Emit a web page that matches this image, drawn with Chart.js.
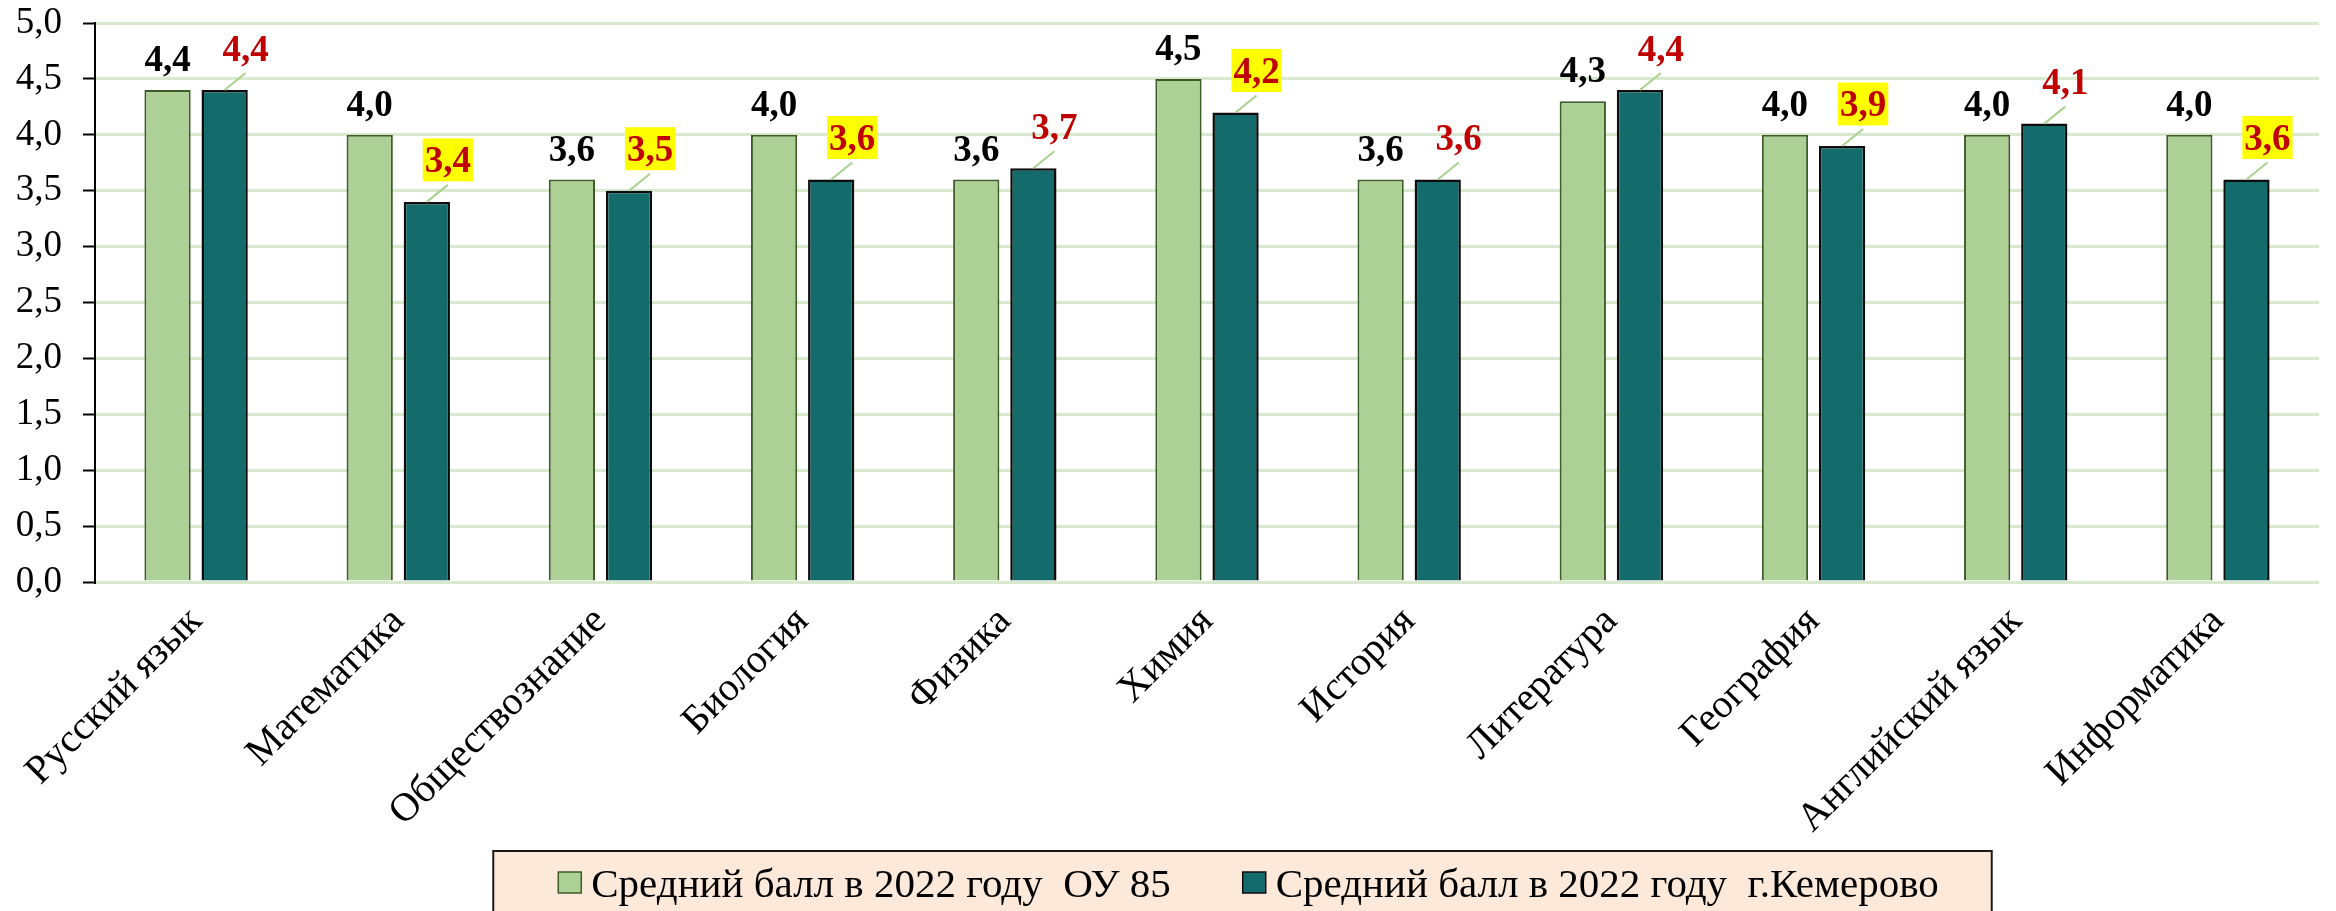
<!DOCTYPE html>
<html lang="ru">
<head>
<meta charset="utf-8">
<title>Средний балл в 2022 году</title>
<script src="https://cdn.jsdelivr.net/npm/chart.js@4.4.1/dist/chart.umd.min.js"></script>
<style>
  html, body { margin: 0; padding: 0; background: #fff; }
  #chart { display: block; }
</style>
</head>
<body>
<canvas id="chart" width="2336" height="911"></canvas>
<script>
const subjects = [
  "Русский язык", "Математика", "Обществознание", "Биология", "Физика", "Химия",
  "История", "Литература", "География", "Английский язык", "Информатика"
];
const schoolScores = [4.4, 4.0, 3.6, 4.0, 3.6, 4.5, 3.6, 4.3, 4.0, 4.0, 4.0];
const cityScores = [4.4, 3.4, 3.5, 3.6, 3.7, 4.2, 3.6, 4.4, 3.9, 4.1, 3.6];
const seriesNames = ["Средний балл в 2022 году  ОУ 85", "Средний балл в 2022 году  г.Кемерово"];

const SERIF = "'Liberation Serif', 'Times New Roman', serif";
const fmt = (v) => v.toFixed(1).replace(".", ",");

// value labels: school above its bar, city up-right with a leader line,
// highlighted yellow where the city score is below the school score
const valueLabels = {
  id: "valueLabels",
  afterDatasetsDraw(chart) {
    const ctx = chart.ctx;
    ctx.save();
    ctx.font = "bold 37px " + SERIF;
    ctx.textAlign = "center";
    ctx.textBaseline = "alphabetic";

    chart.getDatasetMeta(0).data.forEach((bar, i) => {
      ctx.fillStyle = "#000";
      ctx.fillText(fmt(schoolScores[i]), bar.x, bar.y - 19);
    });

    chart.getDatasetMeta(1).data.forEach((bar, i) => {
      const text = fmt(cityScores[i]);
      const cx = bar.x + 21;
      const cy = bar.y - 42;
      ctx.strokeStyle = "#a9d18e";
      ctx.lineWidth = 2;
      ctx.beginPath();
      ctx.moveTo(bar.x, bar.y);
      ctx.lineTo(cx, cy + 25);
      ctx.stroke();
      if (cityScores[i] < schoolScores[i]) {
        const w = ctx.measureText(text).width + 4;
        ctx.fillStyle = "#ffff00";
        ctx.fillRect(cx - w / 2, cy - 21.5, w, 43);
      }
      ctx.fillStyle = "#c00000";
      ctx.fillText(text, cx, cy + 12.5);
    });
    ctx.restore();
  }
};

// boxed legend under the axis labels
const legendBox = {
  id: "legendBox",
  afterDraw(chart) {
    const ctx = chart.ctx;
    ctx.save();
    ctx.font = "41px " + SERIF;
    const sw = 23, sh = 21, textGap = 10, itemGap = 72;
    const items = chart.data.datasets.map((ds) => ({
      text: ds.label,
      fill: ds.backgroundColor,
      stroke: ds.borderColor,
      w: ctx.measureText(ds.label).width
    }));
    const total = items.reduce((s, it) => s + sw + textGap + it.w, 0) + itemGap * (items.length - 1);
    const boxW = total + 118;
    const left = 1242.5 - boxW / 2;
    const top = 851;

    ctx.fillStyle = "#fde9d9";
    ctx.fillRect(left, top, boxW, 80);
    ctx.strokeStyle = "#1a1a1a";
    ctx.lineWidth = 2;
    ctx.strokeRect(left, top, boxW, 80);

    let x = left + 65;
    items.forEach((it) => {
      ctx.fillStyle = it.fill;
      ctx.fillRect(x, 872, sw, sh);
      ctx.strokeStyle = it.stroke;
      ctx.lineWidth = 1.5;
      ctx.strokeRect(x, 872, sw, sh);
      x += sw + textGap;
      ctx.fillStyle = "#000";
      ctx.textAlign = "left";
      ctx.textBaseline = "alphabetic";
      ctx.fillText(it.text, x, 897);
      x += it.w + itemGap;
    });
    ctx.restore();
  }
};

new Chart(document.getElementById("chart"), {
  type: "bar",
  data: {
    labels: subjects,
    datasets: [
      {
        label: seriesNames[0],
        data: schoolScores,
        backgroundColor: "#acd095",
        borderColor: "#3d5c28",
        borderWidth: 2
      },
      {
        label: seriesNames[1],
        data: cityScores,
        backgroundColor: "#146b6b",
        borderColor: "#0d0d0d",
        borderWidth: 2.5
      }
    ]
  },
  options: {
    responsive: false,
    devicePixelRatio: 1,
    animation: false,
    layout: { padding: { top: 23, right: 17, bottom: 60, left: 0 } },
    datasets: { bar: { categoryPercentage: 0.565, barPercentage: 0.81 } },
    plugins: {
      legend: { display: false },
      tooltip: { enabled: false }
    },
    scales: {
      x: {
        grid: { display: false },
        border: { display: false },
        ticks: {
          color: "#000",
          font: { family: SERIF, size: 40 },
          minRotation: 45,
          maxRotation: 45,
          padding: 8
        },
        afterFit: (scale) => { scale.height = 269; }
      },
      y: {
        min: 0,
        max: 5,
        ticks: {
          stepSize: 0.5,
          callback: (v) => fmt(v),
          color: "#000",
          font: { family: SERIF, size: 37 },
          padding: 21
        },
        grid: { color: "#d9e9d0", lineWidth: 3, tickColor: "#000", tickLength: 12, tickWidth: 2 },
        border: { display: true, color: "#000", width: 2 },
        afterFit: (scale) => {
          scale.width = 95;
          scale.paddingTop = 0;
          scale.paddingBottom = 0;
        }
      }
    }
  },
  plugins: [valueLabels, legendBox]
});
</script>
</body>
</html>
